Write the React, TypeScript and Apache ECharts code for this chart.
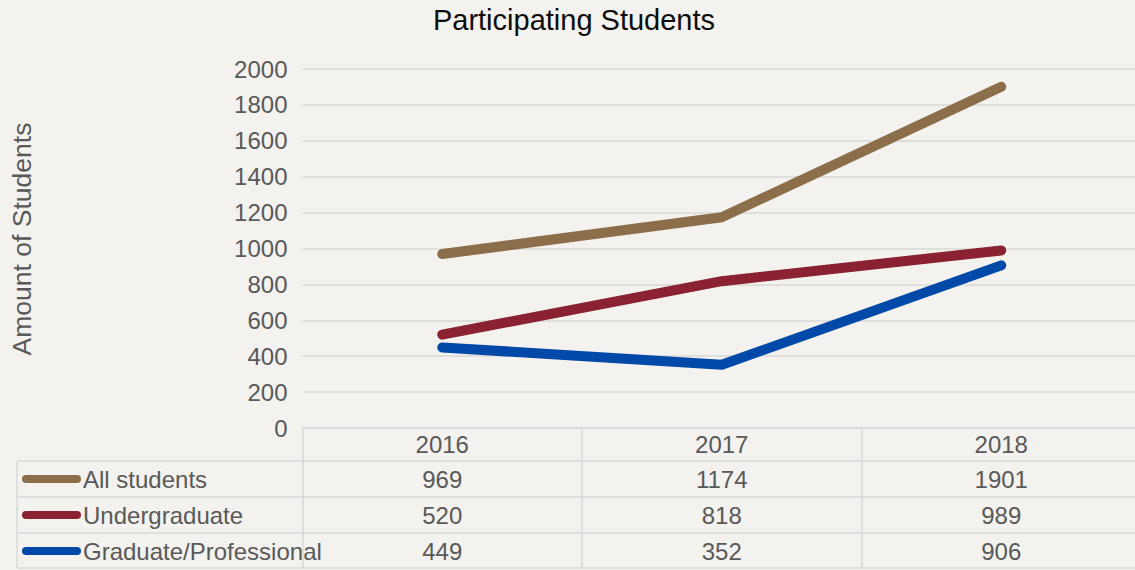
import React, { useEffect, useRef } from "react";
import * as echarts from "echarts";

const years = ["2016", "2017", "2018"];
const seriesNames = ["All students", "Undergraduate", "Graduate/Professional"];
const allStudents = [969, 1174, 1901];
const undergraduate = [520, 818, 989];
const graduate = [449, 352, 906];
const seriesValues = [allStudents, undergraduate, graduate];
const seriesColors = ["#8c6e4b", "#8b2232", "#0049a8"];
const yTicks = { min: 0, max: 2000, interval: 200 };

const FONT = "'Liberation Sans', Arial, sans-serif";
const TEXT = "#595959";
const GRID = "#d9d9d9";

export default function App() {
  const ref = useRef<HTMLDivElement>(null);
  useEffect(() => {
    if (!ref.current) return;
    const chart = echarts.init(ref.current, null, { renderer: "svg" });
    const gridLeft = 302.5;
    const gridWidth = 838.5;
    const gridTop = 69;
    const gridBottomY = 428;
    const band = gridWidth / years.length;
    const rowY = [479, 515, 551];
    const rowLines = [461, 497, 533, 568];
    const graphics: any[] = [];
    rowLines.forEach((y) => {
      graphics.push({
        type: "line",
        shape: { x1: 17, y1: y, x2: 1150, y2: y },
        style: { stroke: GRID, lineWidth: 1.5 },
      });
    });
    graphics.push({
      type: "line",
      shape: { x1: 17, y1: 461, x2: 17, y2: 568 },
      style: { stroke: GRID, lineWidth: 1.5 },
    });
    seriesNames.forEach((name, i) => {
      graphics.push({
        type: "line",
        shape: { x1: 26, y1: rowY[i], x2: 77, y2: rowY[i] },
        style: { stroke: seriesColors[i], lineWidth: 8, lineCap: "round" },
      });
      graphics.push({
        type: "text",
        x: 83,
        y: rowY[i],
        style: {
          text: name,
          fill: TEXT,
          font: `24px ${FONT}`,
          align: "left",
          verticalAlign: "middle",
        },
      });
      seriesValues[i].forEach((v, j) => {
        graphics.push({
          type: "text",
          x: gridLeft + band * (j + 0.5),
          y: rowY[i],
          style: {
            text: String(v),
            fill: TEXT,
            font: `24px ${FONT}`,
            align: "center",
            verticalAlign: "middle",
          },
        });
      });
    });
    graphics.push({
      type: "text",
      x: 22,
      y: 239,
      rotation: Math.PI / 2,
      style: {
        text: "Amount of Students",
        fill: TEXT,
        font: `26.5px ${FONT}`,
        align: "center",
        verticalAlign: "middle",
      },
    });
    graphics.push({
      type: "text",
      x: 574,
      y: 20,
      style: {
        text: "Participating Students",
        fill: "#0d0d0d",
        font: `29px ${FONT}`,
        align: "center",
        verticalAlign: "middle",
      },
    });

    chart.setOption({
      animation: false,
      backgroundColor: "#f3f2ee",
      grid: {
        left: gridLeft,
        width: gridWidth,
        top: gridTop,
        height: gridBottomY - gridTop,
        containLabel: false,
      },
      xAxis: {
        type: "category",
        data: years,
        boundaryGap: true,
        axisLine: { show: true, lineStyle: { color: GRID, width: 1.5 } },
        axisTick: { show: true, length: 140, lineStyle: { color: GRID, width: 1.5 } },
        axisLabel: { color: TEXT, fontFamily: FONT, fontSize: 24, margin: 4 },
      },
      yAxis: {
        type: "value",
        min: yTicks.min,
        max: yTicks.max,
        interval: yTicks.interval,
        axisLine: { show: false },
        axisTick: { show: false },
        splitLine: { lineStyle: { color: GRID, width: 1.5 } },
        axisLabel: {
          color: TEXT,
          fontFamily: FONT,
          fontSize: 24,
          margin: 15,
          formatter: (v: number) => String(v),
        },
      },
      series: seriesNames.map((name, i) => ({
        name,
        type: "line",
        data: seriesValues[i],
        symbol: "none",
        lineStyle: { color: seriesColors[i], width: 10, cap: "round", join: "round" },
        itemStyle: { color: seriesColors[i] },
      })),
      graphic: graphics,
    });
    return () => chart.dispose();
  }, []);
  return (
    <div
      style={{
        position: "absolute",
        left: 0,
        top: 0,
        width: 1135,
        height: 570,
        overflow: "hidden",
      }}
    >
      <div ref={ref} style={{ width: 1150, height: 570 }} />
    </div>
  );
}
